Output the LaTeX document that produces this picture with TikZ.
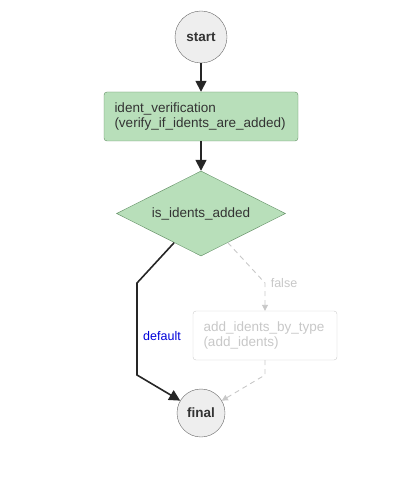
\documentclass[tikz,border=0pt]{standalone}
\usepackage{fontspec}
\setmainfont{Liberation Sans}
\usetikzlibrary{positioning,shapes,arrows.meta}
\definecolor{fcgreen}{HTML}{B8DFBA}
\definecolor{fcgreenline}{HTML}{5E8C61}
\definecolor{fcgrey}{HTML}{EEEEEE}
\definecolor{fcskip}{HTML}{C8C8C8}
\tikzset{
	fc_base/.style={font=\fontsize{13.5}{15}\selectfont, node distance=80pt, text=black!80},
	fc_state/.style={fc_base, draw=black!60, fill=fcgrey, circle, on grid, inner sep=0pt, font=\fontsize{13.5}{15}\selectfont\bfseries},
	fc_task/.style={fc_base, draw=fcgreenline, fill=fcgreen, rectangle, rounded corners=3pt, on grid, align=left, minimum height=49pt, text width=173pt, inner xsep=10.5pt},
	fc_choice/.style={fc_base, draw=fcgreenline, fill=fcgreen, diamond, aspect=2, on grid, inner sep=0pt, minimum width=169pt, minimum height=85pt},
	fc_skiptask/.style={fc_task, draw=black!20, fill=white, text=fcskip, text width=123pt},
	fc_line/.style={draw=black!85, line width=1.6pt, -{Triangle[length=11pt,width=11pt]}},
	fc_skipline/.style={draw=fcskip, line width=0.9pt, dash pattern=on 5pt off 4pt, -{Triangle[length=6pt,width=6pt]}},
	fc_label/.style={fc_base, font=\fontsize{12.5}{14}\selectfont}
}
\begin{document}
\begin{tikzpicture}[x=1pt, y=1pt]
	\useasboundingbox (0,0) rectangle (416,-478);
	\node [fc_state, minimum size=52pt] (start) at (201,-37) {start};
	\node [fc_task, below = 79.5pt of start] (verify) {ident\_verification\\(verify\_if\_idents\_are\_added)};
	\node [fc_choice, below = 97pt of verify] (added) {is\_idents\_added};
	\node [fc_skiptask] (addidents) at (265,-335.5) {add\_idents\_by\_type\\(add\_idents)};
	\node [fc_state, minimum size=48pt] (final) at (201,-413) {final};

	\coordinate (dflt_a) at (137,-283);
	\coordinate (dflt_b) at (137,-375);
	\coordinate (false_a) at (265,-283);
	\coordinate (false_b) at (265,-375);

	\path [fc_line] (start) -- (verify);
	\path [fc_line] (verify) -- (added);
	\path [fc_line] (added) -- (dflt_a) -- (dflt_b) -- (final);
	\path [fc_skipline] (added) -- (false_a) -- (addidents);
	\path [fc_skipline] (addidents) -- (false_b) -- (final);

	\node [fc_label, text=blue!85!black] (dflt_lbl) at (162,-336) {default};
	\node [fc_label, text=fcskip] (false_lbl) at (284,-283) {false};
\end{tikzpicture}
\end{document}
